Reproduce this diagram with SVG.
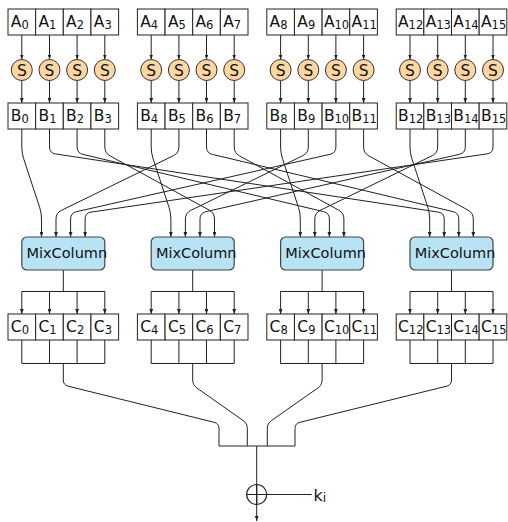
<svg xmlns="http://www.w3.org/2000/svg" width="508" height="522" viewBox="0 0 508 522">
  <defs>
    <marker id="ah" viewBox="0 0 8 6" refX="8" refY="3" markerWidth="5" markerHeight="3.8" orient="auto" markerUnits="userSpaceOnUse">
      <path d="M0,0 L8,3 L0,6 z" fill="#222"/>
    </marker>
    <style>
      .cell { fill: #fff; stroke: #222; stroke-width: 1; }
      .sbox { fill: #fdd6a2; stroke: #333; stroke-width: 1; }
      .mc { fill: #b8e3f5; stroke: #444; stroke-width: 1.2; }
      .lb { font-family: "DejaVu Sans", sans-serif; font-size: 15.5px; fill: #111; }
      .sub { font-size: 11.5px; }
      .st { font-family: "DejaVu Sans", sans-serif; font-size: 15.5px; fill: #111; text-anchor: middle; }
      .mt { font-family: "DejaVu Sans", sans-serif; font-size: 14.5px; fill: #111; }
      .w { fill: none; stroke: #222; stroke-width: 1; stroke-linejoin: round; }
      .wa { fill: none; stroke: #222; stroke-width: 1; stroke-linejoin: round; marker-end: url(#ah); }
    </style>
  </defs>
  <rect width="508" height="522" fill="#fff"/>

  <!-- wiring -->
  <g id="connectors">
    <!-- A -> S -->
    <path class="wa" d="M21.8,35V59.5"/><path class="wa" d="M49.5,35V59.5"/><path class="wa" d="M77.1,35V59.5"/><path class="wa" d="M104.8,35V59.5"/>
    <path class="wa" d="M151.2,35V59.5"/><path class="wa" d="M178.9,35V59.5"/><path class="wa" d="M206.5,35V59.5"/><path class="wa" d="M234.2,35V59.5"/>
    <path class="wa" d="M280.6,35V59.5"/><path class="wa" d="M308.3,35V59.5"/><path class="wa" d="M335.9,35V59.5"/><path class="wa" d="M363.6,35V59.5"/>
    <path class="wa" d="M410,35V59.5"/><path class="wa" d="M437.7,35V59.5"/><path class="wa" d="M465.3,35V59.5"/><path class="wa" d="M493,35V59.5"/>
    <!-- S -> B -->
    <path class="wa" d="M21.8,80.5V103"/><path class="wa" d="M49.5,80.5V103"/><path class="wa" d="M77.1,80.5V103"/><path class="wa" d="M104.8,80.5V103"/>
    <path class="wa" d="M151.2,80.5V103"/><path class="wa" d="M178.9,80.5V103"/><path class="wa" d="M206.5,80.5V103"/><path class="wa" d="M234.2,80.5V103"/>
    <path class="wa" d="M280.6,80.5V103"/><path class="wa" d="M308.3,80.5V103"/><path class="wa" d="M335.9,80.5V103"/><path class="wa" d="M363.6,80.5V103"/>
    <path class="wa" d="M410,80.5V103"/><path class="wa" d="M437.7,80.5V103"/><path class="wa" d="M465.3,80.5V103"/><path class="wa" d="M493,80.5V103"/>
    <!-- B -> MixColumn (shift rows) -->
    <path class="wa" d="M21.8,129V147Q21.8,153 23.67,158.7L39.63,207.3Q41.5,213 41.5,219V237"/>
    <path class="wa" d="M178.9,129V147Q178.9,153 173.51,155.63L61.39,210.37Q56,213 56,219V237"/>
    <path class="wa" d="M335.9,129V147Q335.9,153 330.05,154.32L76.45,211.68Q70.6,213 70.6,219V237"/>
    <path class="wa" d="M493,129V147Q493,153 487.06,153.87L91.04,212.13Q85.1,213 85.1,219V237"/>
    <path class="wa" d="M151.2,129V147Q151.2,153 153.07,158.7L169.03,207.3Q170.9,213 170.9,219V237"/>
    <path class="wa" d="M308.3,129V147Q308.3,153 302.91,155.63L190.79,210.37Q185.4,213 185.4,219V237"/>
    <path class="wa" d="M465.3,129V147Q465.3,153 459.45,154.32L205.85,211.68Q200,213 200,219V237"/>
    <path class="wa" d="M104.8,129V147Q104.8,153 110.07,155.88L209.23,210.12Q214.5,213 214.5,219V237"/>
    <path class="wa" d="M280.6,129V147Q280.6,153 282.47,158.7L298.43,207.3Q300.3,213 300.3,219V237"/>
    <path class="wa" d="M437.7,129V147Q437.7,153 432.31,155.63L320.19,210.37Q314.8,213 314.8,219V237"/>
    <path class="wa" d="M77.1,129V147Q77.1,153 82.94,154.39L323.56,211.61Q329.4,213 329.4,219V237"/>
    <path class="wa" d="M234.2,129V147Q234.2,153 239.47,155.88L338.63,210.12Q343.9,213 343.9,219V237"/>
    <path class="wa" d="M410,129V147Q410,153 411.87,158.7L427.83,207.3Q429.7,213 429.7,219V237"/>
    <path class="wa" d="M49.5,129V147Q49.5,153 55.43,153.9L438.27,212.1Q444.2,213 444.2,219V237"/>
    <path class="wa" d="M206.5,129V147Q206.5,153 212.34,154.39L452.96,211.61Q458.8,213 458.8,219V237"/>
    <path class="wa" d="M363.6,129V147Q363.6,153 368.87,155.88L468.03,210.12Q473.3,213 473.3,219V237"/>
    <!-- MixColumn -> C -->
    <path class="w" d="M63.3,270V291.5M21.8,291.5H104.8M192.7,270V291.5M151.2,291.5H234.2M322.1,270V291.5M280.6,291.5H363.6M451.5,270V291.5M410,291.5H493"/>
    <path class="wa" d="M21.8,291.5V314"/><path class="wa" d="M49.5,291.5V314"/><path class="wa" d="M77.1,291.5V314"/><path class="wa" d="M104.8,291.5V314"/>
    <path class="wa" d="M151.2,291.5V314"/><path class="wa" d="M178.9,291.5V314"/><path class="wa" d="M206.5,291.5V314"/><path class="wa" d="M234.2,291.5V314"/>
    <path class="wa" d="M280.6,291.5V314"/><path class="wa" d="M308.3,291.5V314"/><path class="wa" d="M335.9,291.5V314"/><path class="wa" d="M363.6,291.5V314"/>
    <path class="wa" d="M410,291.5V314"/><path class="wa" d="M437.7,291.5V314"/><path class="wa" d="M465.3,291.5V314"/><path class="wa" d="M493,291.5V314"/>
    <!-- C -> combine -->
    <path class="w" d="M21.8,340V363.5M49.5,340V363.5M77.1,340V363.5M104.8,340V363.5M21.8,363.5H104.8M151.2,340V363.5M178.9,340V363.5M206.5,340V363.5M234.2,340V363.5M151.2,363.5H234.2M280.6,340V363.5M308.3,340V363.5M335.9,340V363.5M363.6,340V363.5M280.6,363.5H363.6M410,340V363.5M437.7,340V363.5M465.3,340V363.5M493,340V363.5M410,363.5H493"/>
    <path class="w" d="M63.3,363.5V380Q63.3,385 68.15,386.2L214.15,422.3Q219,423.5 219,428.5V446"/>
    <path class="w" d="M192.7,363.5V380Q192.7,385 196.79,387.88L243.21,420.62Q247.3,423.5 247.3,428.5V446"/>
    <path class="w" d="M322.1,363.5V380Q322.1,385 318.01,387.88L271.39,420.62Q267.3,423.5 267.3,428.5V446"/>
    <path class="w" d="M451.5,363.5V380Q451.5,385 446.65,386.2L299.85,422.3Q295,423.5 295,428.5V446"/>
    <path class="w" d="M219,446H295"/>
    <path class="wa" d="M256.7,446V521"/>
    <path class="w" d="M246.7,494.5H311.7"/>
  </g>

  <!-- input bytes A -->
  <g id="A0"><rect class="cell" x="8" y="9" width="27.65" height="26"/><text class="lb" x="10.8" y="27.3">A<tspan class="sub" dy="1.3">0</tspan></text></g>
  <g id="A1"><rect class="cell" x="35.65" y="9" width="27.65" height="26"/><text class="lb" x="38.5" y="27.3">A<tspan class="sub" dy="1.3">1</tspan></text></g>
  <g id="A2"><rect class="cell" x="63.3" y="9" width="27.65" height="26"/><text class="lb" x="66.1" y="27.3">A<tspan class="sub" dy="1.3">2</tspan></text></g>
  <g id="A3"><rect class="cell" x="90.95" y="9" width="27.65" height="26"/><text class="lb" x="93.8" y="27.3">A<tspan class="sub" dy="1.3">3</tspan></text></g>
  <g id="A4"><rect class="cell" x="137.4" y="9" width="27.65" height="26"/><text class="lb" x="140.2" y="27.3">A<tspan class="sub" dy="1.3">4</tspan></text></g>
  <g id="A5"><rect class="cell" x="165.05" y="9" width="27.65" height="26"/><text class="lb" x="167.9" y="27.3">A<tspan class="sub" dy="1.3">5</tspan></text></g>
  <g id="A6"><rect class="cell" x="192.7" y="9" width="27.65" height="26"/><text class="lb" x="195.5" y="27.3">A<tspan class="sub" dy="1.3">6</tspan></text></g>
  <g id="A7"><rect class="cell" x="220.35" y="9" width="27.65" height="26"/><text class="lb" x="223.2" y="27.3">A<tspan class="sub" dy="1.3">7</tspan></text></g>
  <g id="A8"><rect class="cell" x="266.8" y="9" width="27.65" height="26"/><text class="lb" x="269.6" y="27.3">A<tspan class="sub" dy="1.3">8</tspan></text></g>
  <g id="A9"><rect class="cell" x="294.45" y="9" width="27.65" height="26"/><text class="lb" x="297.3" y="27.3">A<tspan class="sub" dy="1.3">9</tspan></text></g>
  <g id="A10"><rect class="cell" x="322.1" y="9" width="27.65" height="26"/><text class="lb" x="323.9" y="27.3">A<tspan class="sub" dy="1.3">10</tspan></text></g>
  <g id="A11"><rect class="cell" x="349.75" y="9" width="27.65" height="26"/><text class="lb" x="351.6" y="27.3">A<tspan class="sub" dy="1.3">11</tspan></text></g>
  <g id="A12"><rect class="cell" x="396.2" y="9" width="27.65" height="26"/><text class="lb" x="398" y="27.3">A<tspan class="sub" dy="1.3">12</tspan></text></g>
  <g id="A13"><rect class="cell" x="423.85" y="9" width="27.65" height="26"/><text class="lb" x="425.7" y="27.3">A<tspan class="sub" dy="1.3">13</tspan></text></g>
  <g id="A14"><rect class="cell" x="451.5" y="9" width="27.65" height="26"/><text class="lb" x="453.3" y="27.3">A<tspan class="sub" dy="1.3">14</tspan></text></g>
  <g id="A15"><rect class="cell" x="479.15" y="9" width="27.65" height="26"/><text class="lb" x="481" y="27.3">A<tspan class="sub" dy="1.3">15</tspan></text></g>

  <!-- S-boxes -->
  <g id="S0"><circle class="sbox" cx="21.8" cy="70" r="10.5"/><text class="st" x="21.8" y="75.5">S</text></g>
  <g id="S1"><circle class="sbox" cx="49.5" cy="70" r="10.5"/><text class="st" x="49.5" y="75.5">S</text></g>
  <g id="S2"><circle class="sbox" cx="77.1" cy="70" r="10.5"/><text class="st" x="77.1" y="75.5">S</text></g>
  <g id="S3"><circle class="sbox" cx="104.8" cy="70" r="10.5"/><text class="st" x="104.8" y="75.5">S</text></g>
  <g id="S4"><circle class="sbox" cx="151.2" cy="70" r="10.5"/><text class="st" x="151.2" y="75.5">S</text></g>
  <g id="S5"><circle class="sbox" cx="178.9" cy="70" r="10.5"/><text class="st" x="178.9" y="75.5">S</text></g>
  <g id="S6"><circle class="sbox" cx="206.5" cy="70" r="10.5"/><text class="st" x="206.5" y="75.5">S</text></g>
  <g id="S7"><circle class="sbox" cx="234.2" cy="70" r="10.5"/><text class="st" x="234.2" y="75.5">S</text></g>
  <g id="S8"><circle class="sbox" cx="280.6" cy="70" r="10.5"/><text class="st" x="280.6" y="75.5">S</text></g>
  <g id="S9"><circle class="sbox" cx="308.3" cy="70" r="10.5"/><text class="st" x="308.3" y="75.5">S</text></g>
  <g id="S10"><circle class="sbox" cx="335.9" cy="70" r="10.5"/><text class="st" x="335.9" y="75.5">S</text></g>
  <g id="S11"><circle class="sbox" cx="363.6" cy="70" r="10.5"/><text class="st" x="363.6" y="75.5">S</text></g>
  <g id="S12"><circle class="sbox" cx="410" cy="70" r="10.5"/><text class="st" x="410" y="75.5">S</text></g>
  <g id="S13"><circle class="sbox" cx="437.7" cy="70" r="10.5"/><text class="st" x="437.7" y="75.5">S</text></g>
  <g id="S14"><circle class="sbox" cx="465.3" cy="70" r="10.5"/><text class="st" x="465.3" y="75.5">S</text></g>
  <g id="S15"><circle class="sbox" cx="493" cy="70" r="10.5"/><text class="st" x="493" y="75.5">S</text></g>

  <!-- substituted bytes B -->
  <g id="B0"><rect class="cell" x="8" y="103" width="27.65" height="26"/><text class="lb" x="10.8" y="121.3">B<tspan class="sub" dy="1.3">0</tspan></text></g>
  <g id="B1"><rect class="cell" x="35.65" y="103" width="27.65" height="26"/><text class="lb" x="38.5" y="121.3">B<tspan class="sub" dy="1.3">1</tspan></text></g>
  <g id="B2"><rect class="cell" x="63.3" y="103" width="27.65" height="26"/><text class="lb" x="66.1" y="121.3">B<tspan class="sub" dy="1.3">2</tspan></text></g>
  <g id="B3"><rect class="cell" x="90.95" y="103" width="27.65" height="26"/><text class="lb" x="93.8" y="121.3">B<tspan class="sub" dy="1.3">3</tspan></text></g>
  <g id="B4"><rect class="cell" x="137.4" y="103" width="27.65" height="26"/><text class="lb" x="140.2" y="121.3">B<tspan class="sub" dy="1.3">4</tspan></text></g>
  <g id="B5"><rect class="cell" x="165.05" y="103" width="27.65" height="26"/><text class="lb" x="167.9" y="121.3">B<tspan class="sub" dy="1.3">5</tspan></text></g>
  <g id="B6"><rect class="cell" x="192.7" y="103" width="27.65" height="26"/><text class="lb" x="195.5" y="121.3">B<tspan class="sub" dy="1.3">6</tspan></text></g>
  <g id="B7"><rect class="cell" x="220.35" y="103" width="27.65" height="26"/><text class="lb" x="223.2" y="121.3">B<tspan class="sub" dy="1.3">7</tspan></text></g>
  <g id="B8"><rect class="cell" x="266.8" y="103" width="27.65" height="26"/><text class="lb" x="269.6" y="121.3">B<tspan class="sub" dy="1.3">8</tspan></text></g>
  <g id="B9"><rect class="cell" x="294.45" y="103" width="27.65" height="26"/><text class="lb" x="297.3" y="121.3">B<tspan class="sub" dy="1.3">9</tspan></text></g>
  <g id="B10"><rect class="cell" x="322.1" y="103" width="27.65" height="26"/><text class="lb" x="323.9" y="121.3">B<tspan class="sub" dy="1.3">10</tspan></text></g>
  <g id="B11"><rect class="cell" x="349.75" y="103" width="27.65" height="26"/><text class="lb" x="351.6" y="121.3">B<tspan class="sub" dy="1.3">11</tspan></text></g>
  <g id="B12"><rect class="cell" x="396.2" y="103" width="27.65" height="26"/><text class="lb" x="398" y="121.3">B<tspan class="sub" dy="1.3">12</tspan></text></g>
  <g id="B13"><rect class="cell" x="423.85" y="103" width="27.65" height="26"/><text class="lb" x="425.7" y="121.3">B<tspan class="sub" dy="1.3">13</tspan></text></g>
  <g id="B14"><rect class="cell" x="451.5" y="103" width="27.65" height="26"/><text class="lb" x="453.3" y="121.3">B<tspan class="sub" dy="1.3">14</tspan></text></g>
  <g id="B15"><rect class="cell" x="479.15" y="103" width="27.65" height="26"/><text class="lb" x="481" y="121.3">B<tspan class="sub" dy="1.3">15</tspan></text></g>

  <!-- MixColumn blocks -->
  <g id="MC0"><rect class="mc" x="21.8" y="237" width="83" height="33" rx="5"/><text class="mt" x="26.5" y="257.8">MixColumn</text></g>
  <g id="MC1"><rect class="mc" x="151.2" y="237" width="83" height="33" rx="5"/><text class="mt" x="155.9" y="257.8">MixColumn</text></g>
  <g id="MC2"><rect class="mc" x="280.6" y="237" width="83" height="33" rx="5"/><text class="mt" x="285.3" y="257.8">MixColumn</text></g>
  <g id="MC3"><rect class="mc" x="410" y="237" width="83" height="33" rx="5"/><text class="mt" x="414.7" y="257.8">MixColumn</text></g>

  <!-- output bytes C -->
  <g id="C0"><rect class="cell" x="8" y="314" width="27.65" height="26"/><text class="lb" x="10.8" y="332.3">C<tspan class="sub" dy="1.3">0</tspan></text></g>
  <g id="C1"><rect class="cell" x="35.65" y="314" width="27.65" height="26"/><text class="lb" x="38.5" y="332.3">C<tspan class="sub" dy="1.3">1</tspan></text></g>
  <g id="C2"><rect class="cell" x="63.3" y="314" width="27.65" height="26"/><text class="lb" x="66.1" y="332.3">C<tspan class="sub" dy="1.3">2</tspan></text></g>
  <g id="C3"><rect class="cell" x="90.95" y="314" width="27.65" height="26"/><text class="lb" x="93.8" y="332.3">C<tspan class="sub" dy="1.3">3</tspan></text></g>
  <g id="C4"><rect class="cell" x="137.4" y="314" width="27.65" height="26"/><text class="lb" x="140.2" y="332.3">C<tspan class="sub" dy="1.3">4</tspan></text></g>
  <g id="C5"><rect class="cell" x="165.05" y="314" width="27.65" height="26"/><text class="lb" x="167.9" y="332.3">C<tspan class="sub" dy="1.3">5</tspan></text></g>
  <g id="C6"><rect class="cell" x="192.7" y="314" width="27.65" height="26"/><text class="lb" x="195.5" y="332.3">C<tspan class="sub" dy="1.3">6</tspan></text></g>
  <g id="C7"><rect class="cell" x="220.35" y="314" width="27.65" height="26"/><text class="lb" x="223.2" y="332.3">C<tspan class="sub" dy="1.3">7</tspan></text></g>
  <g id="C8"><rect class="cell" x="266.8" y="314" width="27.65" height="26"/><text class="lb" x="269.6" y="332.3">C<tspan class="sub" dy="1.3">8</tspan></text></g>
  <g id="C9"><rect class="cell" x="294.45" y="314" width="27.65" height="26"/><text class="lb" x="297.3" y="332.3">C<tspan class="sub" dy="1.3">9</tspan></text></g>
  <g id="C10"><rect class="cell" x="322.1" y="314" width="27.65" height="26"/><text class="lb" x="323.9" y="332.3">C<tspan class="sub" dy="1.3">10</tspan></text></g>
  <g id="C11"><rect class="cell" x="349.75" y="314" width="27.65" height="26"/><text class="lb" x="351.6" y="332.3">C<tspan class="sub" dy="1.3">11</tspan></text></g>
  <g id="C12"><rect class="cell" x="396.2" y="314" width="27.65" height="26"/><text class="lb" x="398" y="332.3">C<tspan class="sub" dy="1.3">12</tspan></text></g>
  <g id="C13"><rect class="cell" x="423.85" y="314" width="27.65" height="26"/><text class="lb" x="425.7" y="332.3">C<tspan class="sub" dy="1.3">13</tspan></text></g>
  <g id="C14"><rect class="cell" x="451.5" y="314" width="27.65" height="26"/><text class="lb" x="453.3" y="332.3">C<tspan class="sub" dy="1.3">14</tspan></text></g>
  <g id="C15"><rect class="cell" x="479.15" y="314" width="27.65" height="26"/><text class="lb" x="481" y="332.3">C<tspan class="sub" dy="1.3">15</tspan></text></g>

  <!-- round key addition -->
  <g id="xor"><circle cx="256.7" cy="494.5" r="10" fill="none" stroke="#222" stroke-width="1.2"/><path d="M246.7,494.5H266.7M256.7,484.5V504.5" stroke="#222" stroke-width="1.2"/></g>
  <g id="key"><text class="lb" x="313.5" y="500.5" style="font-size:16px">k<tspan class="sub" dy="1.3" style="font-size:12px">i</tspan></text></g>
</svg>
